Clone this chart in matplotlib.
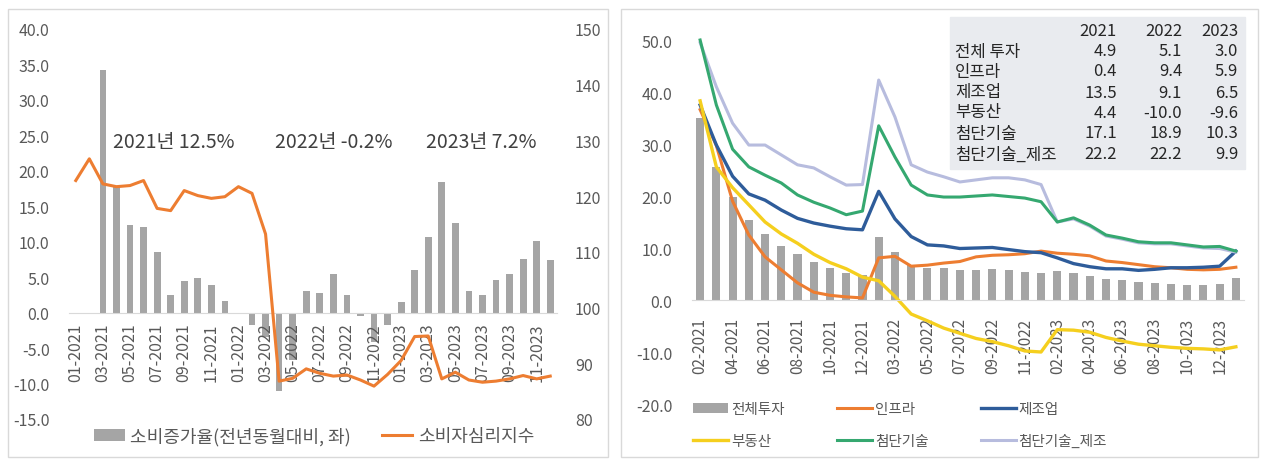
import matplotlib
matplotlib.use("Agg")
import matplotlib.pyplot as plt
from matplotlib.patches import Rectangle
import numpy as np

plt.rcParams['font.family'] = ['Noto Sans CJK KR', 'DejaVu Sans']

# ---- left panel data: 01-2021 .. 12-2023 ----
left_months = [f"{m:02d}-{y}" for y in (2021, 2022, 2023) for m in range(1, 13)]
consumption = [np.nan, np.nan, 34.2, 17.7, 12.4, 12.1, 8.5, 2.5, 4.4, 4.9, 3.9, 1.7,
               np.nan, -1.7, -3.5, -11.1, -6.7, 3.1, 2.7, 5.4, 2.5, -0.5, -4.2, -1.8,
               1.5, 6.0, 10.6, 18.4, 12.7, 3.1, 2.5, 4.6, 5.5, 7.6, 10.1, 7.4]
sentiment = [122.8, 126.7, 122.2, 121.7, 121.9, 122.8, 117.8, 117.4, 121.0, 120.1, 119.6, 119.9,
             121.7, 120.5, 113.2, 86.8, 87.3, 89.0, 88.2, 87.7, 87.9, 87.0, 85.9, 88.0,
             90.5, 94.8, 94.9, 87.2, 88.4, 87.0, 86.6, 86.8, 87.2, 87.8, 87.2, 87.7]
year_notes = ["2021년 12.5%", "2022년 -0.2%", "2023년 7.2%"]

# ---- right panel data: 02-2021 .. 12-2023, 02-2024 ----
right_months = [f"{m:02d}-{y}" for y in (2021, 2022, 2023) for m in range(2, 13)] + ["02-2024"]
total_inv = [35.0, 25.6, 19.9, 15.4, 12.6, 10.3, 8.9, 7.3, 6.1, 5.2, 4.9,
             12.2, 9.3, 6.8, 6.2, 6.1, 5.7, 5.8, 5.9, 5.8, 5.3, 5.1,
             5.5, 5.1, 4.7, 4.0, 3.8, 3.4, 3.2, 3.1, 2.9, 2.9, 3.0, 4.2]
infra = [36.6, 29.7, 19.0, 12.5, 8.3, 5.8, 3.3, 1.5, 0.9, 0.6, 0.4,
         8.1, 8.4, 6.5, 6.7, 7.1, 7.4, 8.3, 8.6, 8.7, 8.9, 9.4,
         9.0, 8.8, 8.5, 7.5, 7.2, 6.8, 6.4, 6.2, 5.9, 5.8, 5.9, 6.3]
manuf = [37.5, 29.8, 23.8, 20.4, 19.2, 17.3, 15.7, 14.8, 14.2, 13.7, 13.5,
         20.9, 15.6, 12.2, 10.6, 10.4, 9.9, 10.0, 10.1, 9.7, 9.3, 9.1,
         8.1, 7.0, 6.4, 6.0, 6.0, 5.7, 5.9, 6.2, 6.2, 6.3, 6.5, 9.4]
real_estate = [38.3, 25.6, 21.6, 18.3, 15.0, 12.7, 10.9, 8.8, 7.2, 6.0, 4.4,
               3.7, 0.7, -2.7, -4.0, -5.4, -6.4, -7.4, -8.0, -8.8, -9.8, -10.0,
               -5.7, -5.8, -6.2, -7.2, -7.9, -8.5, -8.8, -9.1, -9.3, -9.4, -9.6, -9.0]
hightech = [50.0, 37.5, 29.0, 25.6, 24.0, 22.5, 20.2, 18.8, 17.7, 16.4, 17.1,
            33.5, 27.5, 22.1, 20.2, 19.8, 19.8, 20.0, 20.2, 19.9, 19.6, 18.9,
            15.0, 15.8, 14.4, 12.5, 11.9, 11.2, 11.0, 11.0, 10.6, 10.2, 10.3, 9.4]
hightech_mfg = [49.5, 41.0, 34.0, 29.8, 29.8, 27.9, 26.0, 25.4, 23.7, 22.1, 22.2,
                42.3, 35.2, 26.0, 24.6, 23.7, 22.7, 23.1, 23.5, 23.5, 23.1, 22.2,
                15.0, 15.6, 14.2, 12.3, 11.7, 11.0, 10.8, 10.8, 10.4, 10.0, 9.9, 9.2]

table_years = ["2021", "2022", "2023"]
table_rows = ["전체 투자", "인프라", "제조업", "부동산", "첨단기술", "첨단기술_제조"]
table_vals = [[4.9, 5.1, 3.0], [0.4, 9.4, 5.9], [13.5, 9.1, 6.5],
              [4.4, -10.0, -9.6], [17.1, 18.9, 10.3], [22.2, 22.2, 9.9]]

GRAY_TXT = '#595959'
W, H = 1266, 460


def fx(px):
    return px / W


def fy(py):
    return 1 - py / H


fig = plt.figure(figsize=(12.66, 4.6), dpi=100)

# panel frames
for x0, x1 in ((8, 608), (621, 1258)):
    fig.patches.append(Rectangle((fx(x0), fy(458)), fx(x1 - x0), 448 / H,
                                 transform=fig.transFigure, fill=False,
                                 ec='#D9D9D9', lw=1))

# ================= left panel =================
ax1 = fig.add_axes([fx(69), fy(420), fx(488), 390 / H])
xl = np.arange(len(left_months))
bars1 = ax1.bar(xl, consumption, width=0.5, color='#A5A5A5')
ax1.set_xlim(-0.5, len(left_months) - 0.5)
ax1.set_ylim(-15, 40)
ax1.set_yticks(np.arange(-15, 41, 5))
ax1.set_yticklabels([f"{v:.1f}" for v in np.arange(-15, 41, 5)])
ax1.set_xticks(xl[::2])
ax1.set_xticklabels(left_months[::2])
for s in ('top', 'right', 'left'):
    ax1.spines[s].set_visible(False)
ax1.spines['bottom'].set_position(('data', 0))
ax1.spines['bottom'].set_color('#D9D9D9')
ax1.tick_params(axis='x', length=0, pad=7, labelrotation=90, labelsize=11.5, labelcolor=GRAY_TXT)
ax1.tick_params(axis='y', length=0, pad=14, labelsize=11.5, labelcolor=GRAY_TXT)

ax2 = ax1.twinx()
line1, = ax2.plot(xl, sentiment, color='#ED7D31', lw=2.2)
ax2.set_ylim(80, 150)
ax2.set_yticks(np.arange(80, 151, 10))
for s in ax2.spines.values():
    s.set_visible(False)
ax2.tick_params(axis='y', length=0, pad=13, labelsize=11.5, labelcolor=GRAY_TXT)

for xpos, note in zip((7.2, 19.0, 29.9), year_notes):
    ax1.text(xpos, 24.2, note, ha='center', va='center', fontsize=14, color='#404040')

fig.legend([bars1, line1], ["소비증가율(전년동월대비, 좌)", "소비자심리지수"],
           loc='center', bbox_to_anchor=(fx(314), fy(437)), ncol=2, frameon=False,
           fontsize=13, handlelength=1.7, handletextpad=0.3, columnspacing=1.7,
           labelcolor=GRAY_TXT)

# ================= right panel =================
ax3 = fig.add_axes([fx(692), fy(405), fx(552), 364 / H])
xr = np.arange(len(right_months))
bars2 = ax3.bar(xr, total_inv, width=0.5, color='#A5A5A5')
l_infra, = ax3.plot(xr, infra, color='#ED7D31', lw=2.2)
l_manuf, = ax3.plot(xr, manuf, color='#2E5C9A', lw=2.4)
l_re, = ax3.plot(xr, real_estate, color='#F5CF1E', lw=2.4)
l_htm, = ax3.plot(xr, hightech_mfg, color='#B7BCDE', lw=2.2, zorder=2)
l_ht, = ax3.plot(xr, hightech, color='#35A870', lw=2.2, zorder=2.2, clip_on=False)
ax3.set_xlim(-0.5, len(right_months) - 0.5)
ax3.set_ylim(-20, 50)
ax3.set_yticks(np.arange(-20, 51, 10))
ax3.set_yticklabels([f"{v:.1f}" for v in np.arange(-20, 51, 10)])
ax3.set_xticks(xr[:-1:2])
ax3.set_xticklabels(right_months[:-1:2])
for s in ('top', 'right', 'left'):
    ax3.spines[s].set_visible(False)
ax3.spines['bottom'].set_position(('data', 0))
ax3.spines['bottom'].set_color('#D9D9D9')
ax3.tick_params(axis='x', length=0, pad=12, labelrotation=90, labelsize=11, labelcolor=GRAY_TXT)
ax3.tick_params(axis='y', length=0, pad=14, labelsize=11.5, labelcolor=GRAY_TXT)

# legend (column-major order for 2 rows x 3 cols)
fig.legend([bars2, l_re, l_infra, l_ht, l_manuf, l_htm],
           ["전체투자", "부동산", "인프라", "첨단기술", "제조업", "첨단기술_제조"],
           loc='center', bbox_to_anchor=(fx(900), fy(426)), ncol=3, frameon=False,
           fontsize=10.5, handlelength=2.4, handletextpad=0.2, columnspacing=3.6,
           labelspacing=1.25, labelcolor=GRAY_TXT)

# summary table
fig.patches.append(Rectangle((fx(950), fy(170)), fx(295), 152 / H,
                             transform=fig.transFigure, color='#E9EBEF', zorder=5))
col_x = [1117, 1182, 1238]
row_y = [32, 52, 72, 93, 113, 134, 155]
for cx, yr in zip(col_x, table_years):
    fig.text(fx(cx), fy(row_y[0]), yr, ha='right', va='center', fontsize=12, color='#262626', zorder=6)
for ry, name, vals in zip(row_y[1:], table_rows, table_vals):
    fig.text(fx(955), fy(ry), name, ha='left', va='center', fontsize=12, color='#262626', zorder=6)
    for cx, v in zip(col_x, vals):
        fig.text(fx(cx), fy(ry), f"{v:.1f}", ha='right', va='center', fontsize=12,
                 color='#262626', zorder=6)

fig.savefig("out.png", dpi=100)
